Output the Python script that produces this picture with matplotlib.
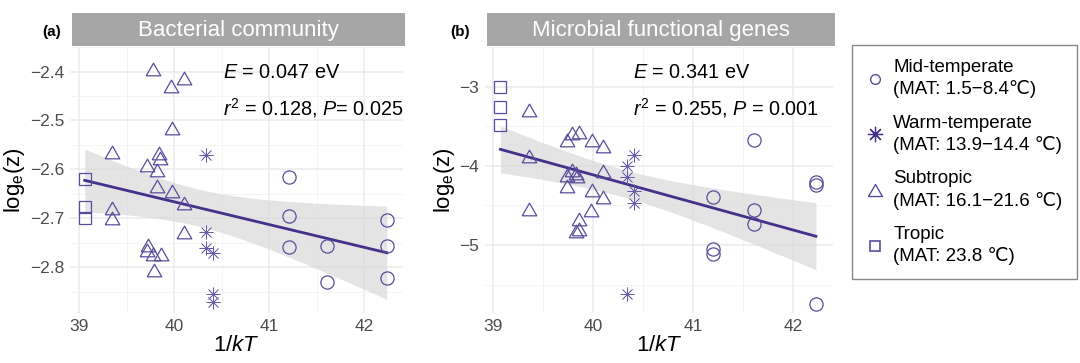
import numpy as np
import matplotlib.pyplot as plt
from matplotlib.lines import Line2D

plt.rcParams['font.family'] = ['Liberation Sans', 'DejaVu Sans']
plt.rcParams['mathtext.fontset'] = 'custom'
plt.rcParams['mathtext.rm'] = 'Liberation Sans'
plt.rcParams['mathtext.it'] = 'Liberation Sans:italic'

# ---- data: x = 1/kT, y = log_e(z) ----
# (a) bacterial community
a_mid_x = [41.21, 41.21, 41.21, 41.61, 41.61, 42.24, 42.24, 42.24]
a_mid_y = [-2.615, -2.695, -2.759, -2.756, -2.830, -2.703, -2.757, -2.821]
a_warm_x = [40.34, 40.34, 40.34, 40.41, 40.41, 40.41]
a_warm_y = [-2.570, -2.727, -2.760, -2.770, -2.855, -2.871]
a_sub_x = [39.78, 39.97, 40.10, 39.98, 39.35, 39.84, 39.85, 39.72, 39.82, 39.82,
           39.98, 40.10, 39.35, 39.35, 40.10, 39.73, 39.72, 39.78, 39.86, 39.79]
a_sub_y = [-2.395, -2.430, -2.413, -2.515, -2.564, -2.566, -2.576, -2.590, -2.601, -2.633,
           -2.643, -2.668, -2.679, -2.700, -2.727, -2.754, -2.765, -2.773, -2.772, -2.806]
a_trop_x = [39.06, 39.06, 39.06]
a_trop_y = [-2.620, -2.677, -2.700]

# (b) microbial functional genes
b_mid_x = [41.20, 41.20, 41.20, 41.61, 41.61, 41.61, 42.23, 42.23, 42.23]
b_mid_y = [-4.40, -5.05, -5.11, -3.68, -4.56, -4.74, -4.21, -4.24, -5.74]
b_warm_x = [40.34, 40.34, 40.34, 40.41, 40.41, 40.41]
b_warm_y = [-4.00, -4.14, -5.62, -3.87, -4.32, -4.47]
b_sub_x = [39.36, 39.36, 39.36, 39.79, 39.86, 39.74, 39.99, 40.10, 39.79, 39.83,
           39.74, 39.84, 39.74, 39.99, 40.10, 40.10, 39.98, 39.86, 39.86, 39.83]
b_sub_y = [-3.29, -3.88, -4.54, -3.58, -3.57, -3.67, -3.67, -3.75, -4.05, -4.09,
           -4.12, -4.13, -4.26, -4.31, -4.07, -4.40, -4.56, -4.67, -4.80, -4.83]
b_trop_x = [39.07, 39.07, 39.07]
b_trop_y = [-3.01, -3.26, -3.49]

panels = [
    dict(tag='(a)', tag_x=52, title='Bacterial community',
         groups=[(a_mid_x, a_mid_y), (a_warm_x, a_warm_y), (a_sub_x, a_sub_y), (a_trop_x, a_trop_y)],
         stats=['$\\mathit{E}$ = 0.047 eV', '$\\mathit{r}^2$ = 0.128, $\\mathit{P}$= 0.025'],
         ylim=(-2.893, -2.431), yticks=[-2.8, -2.7, -2.6, -2.5, -2.4],
         yticklabels=['\u22122.8', '\u22122.7', '\u22122.6', '\u22122.5', '\u22122.4'],
         xlim=(38.905, 42.41), rect=[0.0648, 0.1377, 0.3083, 0.7328], tx=0.459),
    dict(tag='(b)', tag_x=460, title='Microbial functional genes',
         groups=[(b_mid_x, b_mid_y), (b_warm_x, b_warm_y), (b_sub_x, b_sub_y), (b_trop_x, b_trop_y)],
         stats=['$\\mathit{E}$ = 0.341 eV', '$\\mathit{r}^2$ = 0.255, $\\mathit{P}$ = 0.001'],
         ylim=(-5.86, -2.84), yticks=[-5, -4, -3],
         yticklabels=['\u22125', '\u22124', '\u22123'],
         xlim=(38.915, 42.40), rect=[0.449, 0.1377, 0.3222, 0.7328], tx=0.426),
]

pt_col = '#5a4c9c'
star_col = '#6a5cac'
line_col = '#45308a'
tri = [(-1, -0.866), (1, -0.866), (0, 0.866), (-1, -0.866)]
markers = [dict(marker='o', ms=9.5, mew=0.9, c=pt_col),
           dict(marker=(8, 2, 0), ms=10, mew=0.5, c=star_col),
           dict(marker=tri, ms=10.5, mew=0.9, c=pt_col),
           dict(marker='s', ms=8, mew=0.9, c=pt_col)]

fig = plt.figure(figsize=(10.8, 3.63), dpi=100)

for p in panels:
    ax = fig.add_axes(p['rect'])
    allx = np.concatenate([np.array(g[0]) for g in p['groups']])
    ally = np.concatenate([np.array(g[1]) for g in p['groups']])

    # linear fit with 95% confidence band (like geom_smooth(method='lm'))
    n = len(allx)
    b1, b0 = np.polyfit(allx, ally, 1)
    xs = np.linspace(allx.min(), allx.max(), 100)
    ys = b0 + b1 * xs
    resid = ally - (b0 + b1 * allx)
    s = np.sqrt(np.sum(resid ** 2) / (n - 2))
    se = s * np.sqrt(1 / n + (xs - allx.mean()) ** 2 / np.sum((allx - allx.mean()) ** 2))
    tcrit = 2.03
    ax.fill_between(xs, ys - tcrit * se, ys + tcrit * se, color='#d9d9d9', alpha=0.7, lw=0, zorder=1)
    ax.plot(xs, ys, color=line_col, lw=2, zorder=3)

    for (gx, gy), m in zip(p['groups'], markers):
        ax.plot(gx, gy, linestyle='none', marker=m['marker'], ms=m['ms'],
                mfc='none', mec=m['c'], mew=m['mew'], zorder=4)

    ax.set_xlim(p['xlim'])
    ax.set_ylim(p['ylim'])
    ax.set_xticks([39, 40, 41, 42])
    ax.set_xticks([39.5, 40.5, 41.5], minor=True)
    ax.set_yticks(p['yticks'])
    ax.set_yticklabels(p['yticklabels'])
    yt = p['yticks']
    step = yt[1] - yt[0]
    ax.set_yticks([v + step / 2 for v in [yt[0] - step] + yt], minor=True)
    ax.grid(True, which='major', color='#ebebeb', lw=1.1, zorder=0)
    ax.grid(True, which='minor', color='#f2f2f2', lw=0.6, zorder=0)
    ax.set_axisbelow(True)
    ax.tick_params(which='both', length=0, labelsize=12.5, labelcolor='#4d4d4d', pad=4)
    for sp in ax.spines.values():
        sp.set_visible(False)
    ax.set_xlabel('1/$\\mathit{kT}$', fontsize=16, labelpad=1)
    ax.set_ylabel('log$_\\mathrm{e}$(z)', fontsize=16, labelpad=2)

    ax.text(p['tx'], 0.883, p['stats'][0], transform=ax.transAxes, fontsize=14.3, color='black')
    ax.text(p['tx'], 0.744, p['stats'][1], transform=ax.transAxes, fontsize=14.3, color='black')

    # strip title
    r = p['rect']
    strip = fig.add_axes([r[0] + 0.002, 1 - 46 / 363, r[2], 33 / 363])
    strip.set_facecolor('#a6a6a6')
    strip.set_xticks([])
    strip.set_yticks([])
    for sp in strip.spines.values():
        sp.set_visible(False)
    strip.text(0.5, 0.47, p['title'], ha='center', va='center', color='white', fontsize=16,
               transform=strip.transAxes)
    fig.text(p['tag_x'] / 1080, 1 - 32 / 363, p['tag'], fontsize=11, fontweight='bold',
             ha='center', va='center')

# legend
labels = ['Mid-temperate\n(MAT: 1.5\u22128.4\u2103)',
          'Warm-temperate\n(MAT: 13.9\u221214.4 \u2103)',
          'Subtropic\n(MAT: 16.1\u221221.6 \u2103)',
          'Tropic\n(MAT: 23.8 \u2103)']
leg_ms = [7, 11, 10, 7]
leg_mew = [1.0, 0.9, 1.0, 1.2]
handles = [Line2D([], [], linestyle='none', marker=m['marker'], ms=s, mfc='none',
                  mec=pt_col if i != 1 else line_col, mew=w)
           for i, (m, s, w) in enumerate(zip(markers, leg_ms, leg_mew))]
leg = fig.legend(handles, labels, loc='upper left', bbox_to_anchor=(852 / 1080, 1 - 45 / 363),
                 fontsize=13.5, frameon=True, fancybox=False, edgecolor='#888888',
                 framealpha=1, labelspacing=0.88, handletextpad=0.45, handlelength=1.0,
                 borderpad=0.75, borderaxespad=0)
for t in leg.get_texts():
    t.set_linespacing(1.3)

fig.savefig('out.png', dpi=100)
